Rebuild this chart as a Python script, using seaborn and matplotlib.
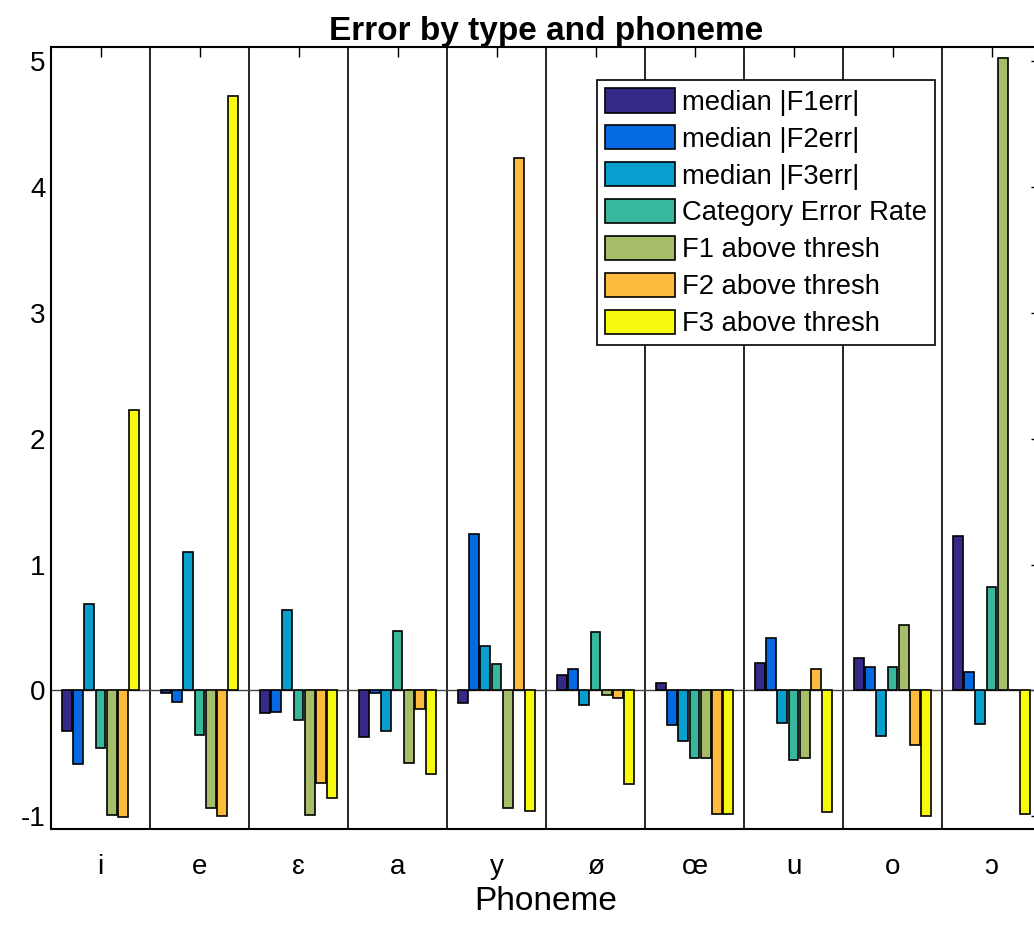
import matplotlib
matplotlib.use("Agg")
import matplotlib.pyplot as plt
import seaborn as sns
import pandas as pd

phonemes = ["i", "e", "ɛ", "a", "y", "ø", "œ", "u", "o", "ɔ"]
series = ["median |F1err|", "median |F2err|", "median |F3err|",
          "Category Error Rate", "F1 above thresh", "F2 above thresh",
          "F3 above thresh"]

f1err = [-0.32, -0.02, -0.177, -0.373, -0.10, 0.119, 0.061, 0.222, 0.254, 1.23]
f2err = [-0.585, -0.095, -0.167, -0.02, 1.24, 0.167, -0.278, 0.413, 0.19, 0.143]
f3err = [0.69, 1.10, 0.637, -0.325, 0.352, -0.116, -0.40, -0.262, -0.362, -0.267]
cat_err = [-0.46, -0.35, -0.236, 0.47, 0.209, 0.468, -0.537, -0.556, 0.183, 0.82]
f1_thr = [-0.987, -0.93, -0.99, -0.577, -0.93, -0.032, -0.535, -0.537, 0.521, 5.02]
f2_thr = [-1.003, -0.998, -0.735, -0.145, 4.23, -0.063, -0.98, 0.169, -0.431, 0.005]
f3_thr = [2.23, 4.72, -0.857, -0.661, -0.96, -0.74, -0.98, -0.966, -1.0, -0.984]

colors = ["#352a87", "#0569e1", "#089fcf", "#37b89d", "#a6be6a", "#fdbb3d", "#f7f90f"]

rows = []
for name, vals in zip(series, [f1err, f2err, f3err, cat_err, f1_thr, f2_thr, f3_thr]):
    for p, v in zip(phonemes, vals):
        rows.append({"Phoneme": p, "value": v, "series": name})
df = pd.DataFrame(rows)

sns.set_theme(style="white")
plt.rcParams["font.family"] = ["Liberation Sans", "DejaVu Sans"]
plt.rcParams["text.color"] = "black"
plt.rcParams["axes.labelcolor"] = "black"
plt.rcParams["xtick.color"] = "black"
plt.rcParams["ytick.color"] = "black"

fig = plt.figure(figsize=(10.34, 9.25), dpi=100)
ax = fig.add_axes([51 / 1034, (925 - 829) / 925, 990 / 1034, 782 / 925])

sns.barplot(data=df, x="Phoneme", y="value", hue="series", order=phonemes,
            hue_order=series, palette=colors, width=0.8, gap=0.12,
            edgecolor="black", linewidth=1.2, saturation=1, errorbar=None,
            ax=ax, zorder=3)

ax.axhline(0, color="#444444", lw=1.0, zorder=2)
for i in range(len(phonemes)):
    ax.axvline(i + 0.5, color="black", lw=1.2, zorder=1)

ax.set_xlim(-0.5, 9.5)
ax.set_ylim(-1.1, 5.11)
ax.set_yticks([-1, 0, 1, 2, 3, 4, 5])
ax.set_yticklabels(["-1", "0", "1", "2", "3", "4", "5"])
ax.tick_params(axis="both", direction="in", length=7.5, width=1.0,
               top=True, right=True, labelsize=20, colors="black")
ax.tick_params(axis="x", pad=18)
ax.tick_params(axis="y", pad=4)
for s in ax.spines.values():
    s.set_color("black")
    s.set_linewidth(1.5)

ax.set_xlabel("Phoneme", fontsize=24, labelpad=4, color="black")
ax.set_ylabel("")
ax.set_title("Error by type and phoneme", fontsize=24, fontweight="bold",
             pad=5, color="black")

handles, labels = ax.get_legend_handles_labels()
leg = ax.legend(handles, labels, loc="upper left",
                bbox_to_anchor=(0.5515, 0.958), fontsize=19.7,
                handlelength=2.55, handleheight=1.0, labelspacing=0.34,
                handletextpad=0.25, borderpad=0.3, borderaxespad=0,
                frameon=True, fancybox=False, edgecolor="black", framealpha=1)
leg.get_frame().set_linewidth(1.2)
for t in leg.get_texts():
    t.set_color("black")

fig.savefig("out.png", dpi=100)
